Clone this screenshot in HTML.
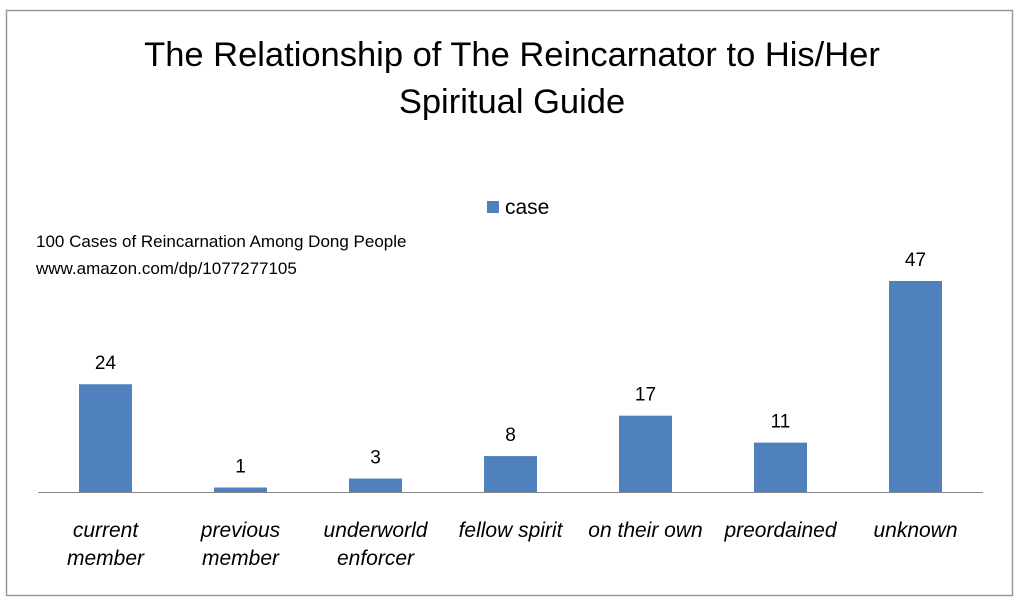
<!DOCTYPE html>
<html><head><meta charset="utf-8"><style>
html,body{margin:0;padding:0;background:#fff;width:1024px;height:611px;overflow:hidden}
svg{display:block;font-family:"Liberation Sans",sans-serif}
</style></head><body>
<svg id="chart" width="1024" height="611">
<rect x="6.5" y="10.5" width="1006" height="585" fill="#fff" stroke="#999" stroke-width="1.5"/>
<text x="512" y="66" text-anchor="middle" font-size="34.5" fill="#000">The Relationship of The Reincarnator to His/Her</text>
<text x="512" y="113" text-anchor="middle" font-size="34.5" fill="#000">Spiritual Guide</text>
<rect x="487" y="201" width="12" height="12" fill="#4f81bd"/>
<text x="505" y="214" font-size="21" fill="#000">case</text>
<text x="36" y="247" font-size="17" fill="#000">100 Cases of Reincarnation Among Dong People</text>
<text x="36" y="274" font-size="17" fill="#000">www.amazon.com/dp/1077277105</text>
<line x1="38" y1="492.5" x2="983" y2="492.5" stroke="#888" stroke-width="1"/>
<g id="bars"></g>
</svg>
<script>
const categories = [["current","member"],["previous","member"],["underworld","enforcer"],["fellow spirit"],["on their own"],["preordained"],["unknown"]];
const values = [24,1,3,8,17,11,47];
const valueLabels = ["24","1","3","8","17","11","47"];
const x0 = 38, band = 135, baseY = 492, pxPer = 4.49, barW = 53;
function xCenter(i){ return x0 + band*(i+0.5); }
function yScale(v){ return baseY - v*pxPer; }
const g = document.getElementById('bars');
const NS = "http://www.w3.org/2000/svg";
values.forEach((v,i)=>{
  const r = document.createElementNS(NS,'rect');
  r.setAttribute('x', xCenter(i)-barW/2);
  r.setAttribute('y', yScale(v));
  r.setAttribute('width', barW);
  r.setAttribute('height', baseY - yScale(v));
  r.setAttribute('fill', '#4f81bd');
  
  
  g.appendChild(r);
  const t = document.createElementNS(NS,'text');
  t.setAttribute('x', xCenter(i));
  t.setAttribute('y', yScale(v) - 15);
  t.setAttribute('text-anchor', 'middle');
  t.setAttribute('font-size', '19');
  t.textContent = valueLabels[i];
  
  
  g.appendChild(t);
  categories[i].forEach((line,j)=>{
    const c = document.createElementNS(NS,'text');
    c.setAttribute('x', xCenter(i));
    c.setAttribute('y', 537 + j*28);
    c.setAttribute('text-anchor', 'middle');
    c.setAttribute('font-size', '21');
    c.setAttribute('font-style', 'italic');
    c.textContent = line;
    
    
    g.appendChild(c);
  });
});
</script>
</body></html>
